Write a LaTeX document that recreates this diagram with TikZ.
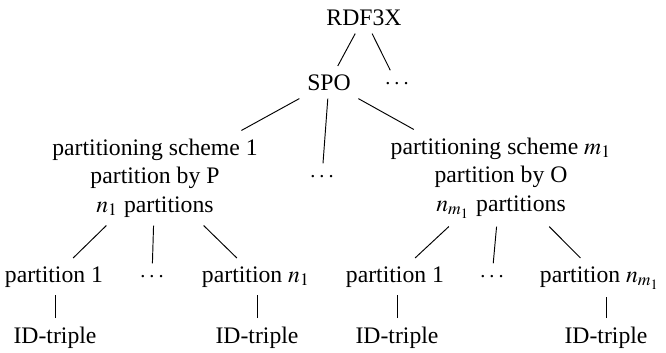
\documentclass[tikz,border=0pt]{standalone}
\usepackage{mathptmx}
\usepackage{fontspec}
\setmainfont{Liberation Serif}
\begin{document}
\begin{tikzpicture}[x=0.422pt,y=-0.422pt,
  lbl/.style={inner sep=3.33pt, font=\normalsize},
  multi/.style={lbl, align=center},
  edge/.style={draw=black, line width=0.4pt}]
\useasboundingbox (0,0) rectangle (666,352);
% top levels
\node[lbl,anchor=base] (root) at (364,25) {RDF3X};
\node[lbl,anchor=base] (spo) at (329,90) {SPO};
\node[lbl,anchor=base] (rdots) at (397,89) {$\cdots$};
% partitioning schemes
\node[multi] (s1) at (155,178) {partitioning scheme 1\\partition by P\\$n_1$ partitions};
\node[lbl,anchor=base] (sdots) at (322,182) {$\cdots$};
\node[multi] (sm) at (501,178) {partitioning scheme $m_1$\\partition by O\\$n_{m_1}$ partitions};
% partitions
\node[lbl,anchor=base] (p11) at (54,282) {partition 1};
\node[lbl,anchor=base] (pd1) at (152,282) {$\cdots$};
\node[lbl,anchor=base] (pn1) at (256,282) {partition $n_1$};
\node[lbl,anchor=base] (p21) at (395,282) {partition 1};
\node[lbl,anchor=base] (pd2) at (492,282) {$\cdots$};
\node[lbl,anchor=base] (pn2) at (600,282) {partition $n_{m_1}$};
% ID-triples
\node[lbl,anchor=base] (t11) at (55,343) {ID-triple};
\node[lbl,anchor=base] (t1n) at (257,343) {ID-triple};
\node[lbl,anchor=base] (t21) at (397,343) {ID-triple};
\node[lbl,anchor=base] (t2n) at (606,343) {ID-triple};
% connectors
\draw[edge] (root) -- (spo);
\draw[edge] (root) -- (rdots);
\draw[edge] (spo) -- (s1);
\draw[edge] (spo) -- (sdots);
\draw[edge] (spo) -- (sm);
\draw[edge] (s1) -- (p11);
\draw[edge] (s1) -- (pd1);
\draw[edge] (s1) -- (pn1);
\draw[edge] (sm) -- (p21);
\draw[edge] (sm) -- (pd2);
\draw[edge] (sm) -- (pn2);
% vertical leaves
\draw[edge] (t11) -- (t11 |- p11.south);
\draw[edge] (t1n) -- (t1n |- pn1.south);
\draw[edge] (t21) -- (t21 |- p21.south);
\draw[edge] (t2n) -- (t2n |- pn2.south);
\end{tikzpicture}
\end{document}
